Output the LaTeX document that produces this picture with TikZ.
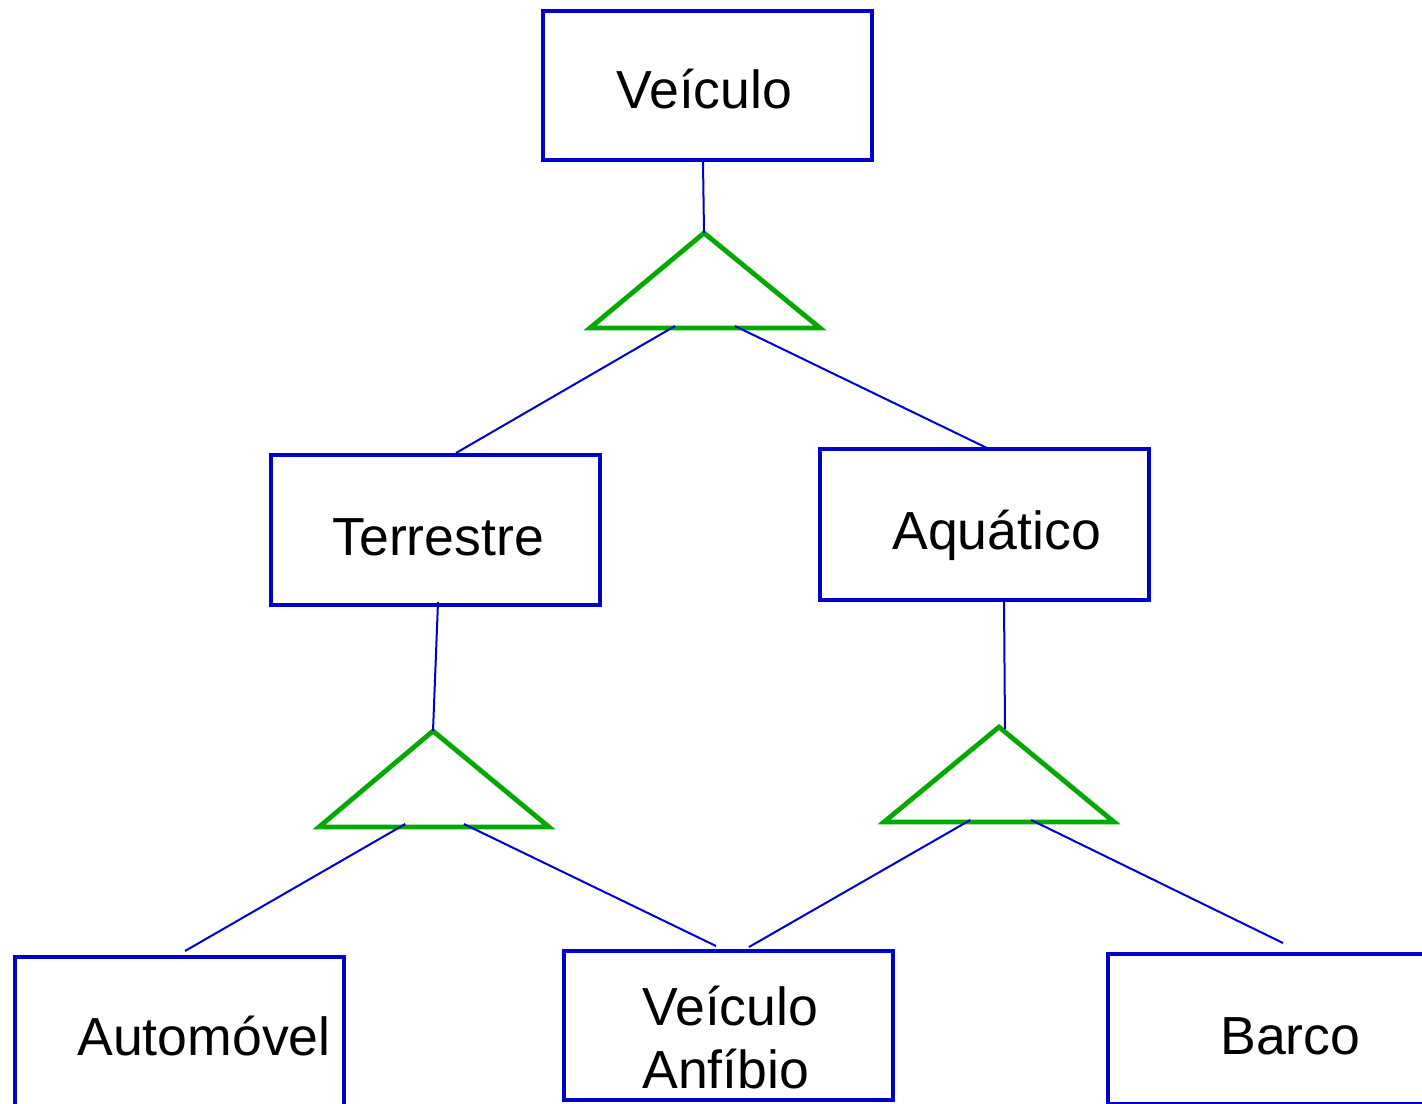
\documentclass[tikz,border=0pt]{standalone}
\usepackage{fontspec}
\setmainfont{Liberation Sans}
\usetikzlibrary{calc}
\definecolor{erblue}{HTML}{0000CC}
\definecolor{ergreen}{HTML}{00AA00}
\begin{document}
\begin{tikzpicture}[x=0.5pt,y=-0.5pt,
  entity/.style={draw=erblue,line width=2pt,rectangle,inner sep=0pt,
    minimum width=164.5pt,minimum height=75pt},
  label/.style={inner sep=0pt,anchor=base west,font=\fontsize{26.8}{32}\selectfont},
  isa/.style={draw=ergreen,line width=2.4pt,line join=miter},
  link/.style={draw=erblue,line width=1pt}]
\useasboundingbox (0,0) rectangle (1422,1103);
\clip (0,0) rectangle (1422,1103);

% entities
\node[entity,minimum height=74.75pt] (veic) at (707,85.25) {};
\node[entity] (terr) at (435.5,530) {};
\node[entity,minimum height=75.5pt] (aqua) at (984.5,524.5) {};
\node[entity] (auto) at (179.5,1032) {};
\node[entity,minimum height=74.5pt] (anfi) at (728.5,1025.5) {};
\node[entity] (barco) at (1272.5,1029) {};

% entity names
\node[label] (tveic) at (616,108) {Veículo};
\node[label] (tterr) at (332,555) {Terrestre};
\node[label] (taqua) at (892,549) {Aquático};
\node[label] (tauto) at (77,1055) {Automóvel};
\node[label] (tanfa) at (642,1025) {Veículo};
\node[label] (tanfb) at (642,1088) {Anfíbio};
\node[label] (tbarco) at (1220,1054) {Barco};

% specialisation triangles
\coordinate (isaA) at (704,233);
\coordinate (isaAl) at (590,328);
\coordinate (isaAr) at (820,328);
\coordinate (isaB) at (433,731);
\coordinate (isaBl) at (319,827);
\coordinate (isaBr) at (549,827);
\coordinate (isaC) at (999,727);
\coordinate (isaCl) at (884,822);
\coordinate (isaCr) at (1114,822);
\draw[isa] (isaA) -- (isaAl) -- (isaAr) -- cycle;
\draw[isa] (isaB) -- (isaBl) -- (isaBr) -- cycle;
\draw[isa] (isaC) -- (isaCl) -- (isaCr) -- cycle;

% connectors
\draw[link] ($(veic.south)+(-4,0)$) -- (isaA);
\draw[link] ($(isaAl)!0.37!(isaAr)+(0,-2)$) -- ($(terr.north)+(20.5,0)$);
\draw[link] ($(isaAl)!0.63!(isaAr)+(0,-2)$) -- ($(aqua.north)+(3.5,1.5)$);
\draw[link] ($(terr.south)+(2.5,-5)$) -- (isaB);
\draw[link] ($(aqua.south)+(19.5,0)$) -- ($(isaC)+(6,2)$);
\draw[link] ($(isaBl)!0.375!(isaBr)+(0,-3)$) -- ($(auto.north)+(5.5,-4)$);
\draw[link] ($(isaBl)!0.63!(isaBr)+(0,-3)$) -- ($(anfi.north)+(-12.5,-3)$);
\draw[link] ($(isaCl)!0.375!(isaCr)+(0,-2)$) -- ($(anfi.north)+(20.5,-2)$);
\draw[link] ($(isaCl)!0.64!(isaCr)+(0,-2)$) -- ($(barco.north)+(10.5,-9)$);
\end{tikzpicture}
\end{document}
